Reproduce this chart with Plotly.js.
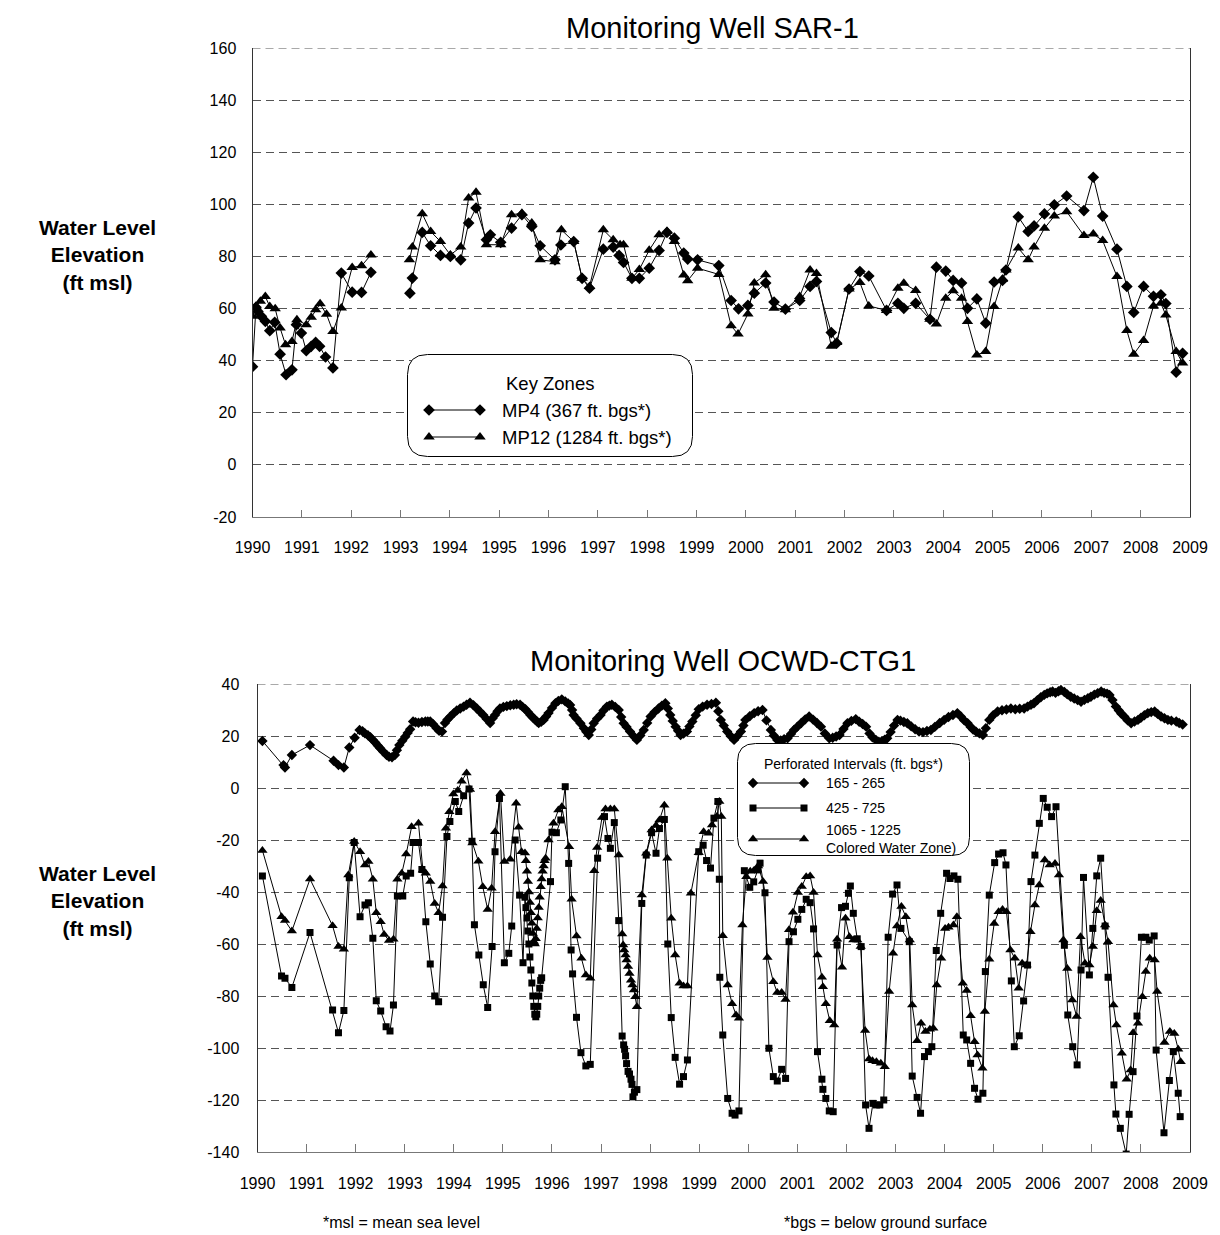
<!DOCTYPE html>
<html><head><meta charset="utf-8">
<script src="https://cdn.plot.ly/plotly-3.0.1.min.js"></script>
<style>html,body{margin:0;padding:0;background:#fff}#chart{width:1220px;height:1235px}</style>
</head><body><div id="chart"></div>
<script>
// ---------------- DATA ----------------
const yearTicks = [1990,1991,1992,1993,1994,1995,1996,1997,1998,1999,2000,2001,2002,2003,2004,2005,2006,2007,2008,2009];
const topYTicks = [-20,0,20,40,60,80,100,120,140,160];
const topYLabels = ["-20","0","20","40","60","80","100","120","140","160"];
const botYTicks = [-140,-120,-100,-80,-60,-40,-20,0,20,40];
const botYLabels = ["-140","-120","-100","-80","-60","-40","-20","0","20","40"];

const topTitle = "Monitoring Well SAR-1";
const bottomTitle = "Monitoring Well OCWD-CTG1";

// SAR-1, MP4 (367 ft. bgs)
const mp4Years = [1990.00,1990.07,1990.11,1990.18,1990.26,1990.35,1990.45,1990.56,1990.68,1990.80,1990.89,1990.99,1991.09,1991.19,1991.28,1991.36,1991.48,1991.63,1991.80,1992.02,1992.21,1992.40,
 1992.80,
 1993.19,1993.24,1993.44,1993.61,1993.81,1994.01,1994.22,1994.38,1994.53,1994.74,1994.82,1995.03,1995.25,1995.46,1995.66,1995.83,1996.13,1996.25,1996.51,1996.68,1996.83,1997.11,1997.31,1997.43,1997.52,1997.69,1997.84,1998.04,1998.24,1998.40,1998.55,1998.74,1998.82,1999.02,1999.45,1999.70,1999.85,2000.04,2000.17,2000.40,2000.57,2000.80,2001.09,2001.30,2001.43,2001.73,2001.84,2002.09,2002.31,2002.49,2002.85,2003.08,2003.20,2003.44,2003.73,2003.86,2004.05,2004.20,2004.37,2004.49,2004.68,2004.86,2005.03,2005.20,2005.27,2005.52,2005.72,2005.84,2006.05,2006.25,2006.50,2006.85,2007.04,2007.23,2007.52,2007.72,2007.86,2008.06,2008.26,2008.41,2008.51,2008.72,2008.85];
const mp4Values = [37.7,60.5,58.9,57.0,55.1,51.5,54.7,42.5,34.6,36.5,53.8,50.6,43.8,45.5,47.0,45.5,41.4,37.2,73.6,66.3,66.2,73.9,
 null,
 65.9,71.7,89.2,84.1,80.4,80.0,78.7,92.8,98.6,86.4,88.3,85.4,90.9,96.0,91.5,84.1,78.7,84.4,85.7,71.6,67.8,82.8,83.6,80.4,77.7,71.6,71.6,75.5,82.3,89.2,87.0,81.3,79.0,78.7,76.5,63.1,59.9,61.2,65.9,69.8,62.5,59.8,63.1,68.5,70.4,50.8,46.7,67.5,74.2,72.5,59.3,62.0,60.1,62.0,55.9,75.9,74.4,70.8,69.8,60.1,63.7,54.4,70.2,70.8,74.8,95.2,89.6,91.7,96.3,99.8,103.2,97.6,110.4,95.5,82.8,68.5,58.5,68.5,64.7,65.3,61.9,35.6,42.8];

// SAR-1, MP12 (1284 ft. bgs)
const mp12Years = [1990.00,1990.07,1990.16,1990.26,1990.35,1990.46,1990.56,1990.67,1990.80,1990.90,1991.09,1991.19,1991.28,1991.37,1991.50,1991.63,1991.80,1992.02,1992.21,1992.40,
 1992.80,
 1993.18,1993.24,1993.44,1993.61,1993.81,1994.01,1994.22,1994.38,1994.53,1994.74,1995.03,1995.25,1995.46,1995.66,1995.83,1996.13,1996.26,1996.51,1996.68,1996.83,1997.11,1997.31,1997.45,1997.52,1997.69,1997.84,1998.04,1998.24,1998.40,1998.55,1998.74,1998.82,1999.02,1999.45,1999.70,1999.84,2000.04,2000.17,2000.40,2000.57,2000.80,2001.09,2001.30,2001.43,2001.73,2001.84,2002.09,2002.31,2002.49,2002.85,2003.08,2003.20,2003.44,2003.73,2003.86,2004.05,2004.20,2004.37,2004.49,2004.68,2004.86,2005.03,2005.20,2005.27,2005.52,2005.72,2005.84,2006.05,2006.25,2006.50,2006.85,2007.04,2007.23,2007.52,2007.72,2007.86,2008.06,2008.26,2008.41,2008.51,2008.72,2008.85];
const mp12Values = [57.0,60.8,62.8,64.6,60.8,59.9,52.5,46.1,47.4,55.7,53.8,56.7,59.5,61.8,57.8,51.2,60.2,75.8,76.4,80.6,
 null,
 78.7,83.6,96.4,89.6,85.7,80.6,83.6,102.4,104.6,84.5,84.5,96.0,96.6,92.8,78.7,78.0,90.2,85.7,71.6,68.5,90.2,86.4,84.5,84.5,71.6,75.0,82.4,88.3,89.6,85.7,72.9,70.7,75.5,73.1,53.4,50.2,57.9,69.8,73.0,60.1,59.5,64.6,74.8,73.5,45.5,47.0,67.5,70.0,61.0,59.3,67.8,69.7,66.9,55.9,54.1,64.0,66.8,64.0,55.0,42.2,43.5,60.8,71.2,74.8,83.2,78.7,83.6,90.8,95.5,97.2,88.0,88.6,86.1,72.3,51.6,42.5,47.7,61.0,62.0,57.5,43.5,39.1];

// OCWD-CTG1, 165 - 265 ft. bgs
const z1Years = [1990.10,1990.53,1990.56,1990.70,1991.07,1991.55,1991.65,1991.76,1991.87,1991.98,1992.08,1992.14,1992.19,1992.25,1992.30,1992.35,1992.40,1992.45,1992.50,1992.56,1992.63,1992.68,1992.74,1992.80,1992.84,1992.89,1992.95,1993.01,1993.06,1993.11,1993.17,1993.22,1993.28,1993.35,1993.42,1993.47,1993.52,1993.58,1993.65,1993.70,1993.76,1993.82,1993.87,1993.93,1994.00,1994.06,1994.13,1994.20,1994.26,1994.33,1994.40,1994.47,1994.53,1994.60,1994.67,1994.74,1994.79,1994.84,1994.89,1994.94,1995.01,1995.08,1995.15,1995.22,1995.28,1995.35,1995.40,1995.46,1995.51,1995.56,1995.61,1995.66,1995.70,1995.73,1995.78,1995.83,1995.88,1995.93,1996.00,1996.07,1996.13,1996.20,1996.27,1996.33,1996.37,1996.41,1996.44,1996.50,1996.58,1996.65,1996.70,1996.75,1996.80,1996.85,1996.92,1996.99,1997.05,1997.12,1997.17,1997.22,1997.29,1997.36,1997.41,1997.46,1997.52,1997.59,1997.66,1997.73,1997.80,1997.87,1997.94,1998.01,1998.09,1998.17,1998.24,1998.31,1998.36,1998.41,1998.46,1998.52,1998.57,1998.62,1998.68,1998.75,1998.80,1998.86,1998.93,1998.99,1999.07,1999.16,1999.25,1999.34,1999.39,1999.44,1999.50,1999.57,1999.64,1999.71,1999.78,1999.85,1999.90,1999.94,2000.03,2000.12,2000.20,2000.29,2000.37,2000.46,2000.52,2000.59,2000.66,2000.73,2000.80,2000.87,2000.93,2001.00,2001.08,2001.16,2001.24,2001.32,2001.40,2001.48,2001.56,2001.65,2001.72,2001.79,2001.86,2001.94,2002.02,2002.10,2002.19,2002.26,2002.33,2002.40,2002.47,2002.53,2002.60,2002.66,2002.72,2002.78,2002.83,2002.90,2002.97,2003.04,2003.10,2003.17,2003.24,2003.32,2003.40,2003.48,2003.56,2003.64,2003.72,2003.80,2003.90,2003.99,2004.08,2004.17,2004.26,2004.33,2004.40,2004.47,2004.53,2004.58,2004.64,2004.71,2004.78,2004.84,2004.91,2004.99,2005.08,2005.17,2005.26,2005.35,2005.44,2005.53,2005.62,2005.69,2005.76,2005.82,2005.89,2005.96,2006.03,2006.09,2006.15,2006.20,2006.26,2006.32,2006.37,2006.44,2006.50,2006.57,2006.64,2006.71,2006.78,2006.85,2006.92,2006.98,2007.05,2007.12,2007.19,2007.25,2007.31,2007.36,2007.42,2007.49,2007.55,2007.60,2007.66,2007.73,2007.80,2007.87,2007.94,2008.00,2008.07,2008.14,2008.21,2008.28,2008.34,2008.41,2008.48,2008.55,2008.62,2008.72,2008.78,2008.85];
const z1Values = [18.1,8.8,7.9,12.7,16.5,10.5,8.8,7.9,15.6,19.3,22.3,21.8,21.0,20.3,19.5,18.5,17.5,16.3,15.3,14.0,12.7,12.0,11.8,12.7,14.5,16.5,18.2,19.7,21.2,22.6,25.6,25.3,25.1,25.4,25.6,25.6,25.6,24.5,23.0,22.0,21.7,25.0,26.3,27.5,28.8,29.8,30.6,31.3,32.0,32.8,31.8,30.6,29.4,28.1,26.5,25.0,26.8,28.1,29.5,30.6,31.2,31.5,31.8,32.0,32.2,32.0,31.2,30.3,29.2,28.1,27.1,26.2,25.5,25.0,25.5,26.2,27.5,28.8,30.8,32.6,33.5,34.1,33.3,32.5,31.9,30.0,28.1,26.7,24.9,23.0,21.6,20.4,22.5,24.9,26.7,28.1,29.8,31.3,31.7,32.0,31.2,30.0,27.3,24.9,23.5,21.7,20.0,18.5,20.2,22.3,25.0,27.5,29.2,30.6,31.7,32.6,30.6,28.1,25.8,23.6,22.0,20.4,20.9,21.7,23.7,25.6,28.0,30.3,31.3,32.0,32.3,32.8,29.5,26.2,24.0,21.7,20.0,18.5,20.0,21.7,24.0,26.2,27.6,28.8,29.5,30.0,26.0,22.3,20.2,18.5,18.3,18.8,19.1,20.8,22.3,23.6,25.0,26.4,27.5,26.3,25.0,23.6,21.0,19.1,19.3,19.8,20.4,22.7,24.9,25.8,26.5,25.5,24.6,23.6,21.0,19.5,18.5,17.8,18.0,18.6,19.1,21.5,24.0,26.2,25.9,25.4,24.9,23.7,22.6,21.7,21.5,21.9,22.3,23.5,25.0,26.2,27.3,28.1,28.8,27.5,26.0,24.9,23.5,22.5,21.7,21.0,20.4,23.0,26.2,28.0,29.4,29.9,30.2,30.6,30.3,30.5,30.6,31.3,32.0,32.6,33.8,34.9,35.8,36.4,36.8,37.1,36.6,37.2,37.7,36.9,36.0,35.1,34.4,33.8,33.2,33.9,34.5,35.1,35.9,36.5,37.1,36.6,36.3,35.8,33.8,31.3,29.8,28.6,27.5,26.0,24.9,25.6,26.2,27.0,28.0,28.8,29.2,29.4,28.5,27.5,26.8,26.2,25.9,25.6,25.0,24.4];

// OCWD-CTG1, 425 - 725 ft. bgs
const z2Years = [1990.10,1990.49,1990.56,1990.70,1991.07,1991.53,1991.65,1991.76,1991.87,1991.97,1992.09,1992.19,1992.26,1992.35,1992.42,1992.51,1992.62,1992.70,1992.77,1992.85,1992.96,1993.03,1993.12,1993.17,1993.28,1993.35,1993.43,1993.52,1993.61,1993.69,1993.77,1993.86,1993.92,1994.03,1994.10,1994.20,1994.31,1994.37,1994.42,1994.51,1994.60,1994.69,1994.78,1994.84,1994.93,1995.03,1995.12,1995.18,1995.25,1995.34,1995.41,
 1995.45,1995.47,1995.49,1995.51,1995.53,1995.55,1995.57,1995.59,1995.61,1995.63,1995.65,1995.67,1995.69,1995.71,1995.73,1995.75,1995.77,1995.79,
 1995.97,1996.00,1996.09,1996.18,1996.27,1996.34,1996.39,1996.42,1996.50,1996.59,1996.69,1996.78,1996.93,1997.07,1997.14,1997.19,1997.27,1997.36,1997.43,1997.46,1997.48,1997.50,1997.52,1997.55,1997.58,1997.61,1997.63,1997.65,1997.68,1997.73,1997.83,1997.92,1998.03,1998.12,1998.19,1998.29,1998.36,1998.43,1998.51,1998.60,1998.68,1998.76,1998.99,1999.08,1999.15,1999.23,1999.30,1999.38,1999.41,1999.42,1999.48,1999.58,1999.67,1999.73,1999.81,1999.92,2000.03,2000.11,2000.19,2000.24,2000.34,2000.42,2000.51,2000.59,2000.68,2000.76,2000.83,2000.92,2001.01,2001.09,2001.18,2001.26,2001.33,2001.41,2001.50,2001.52,2001.58,2001.65,2001.73,2001.81,2001.90,2001.98,2002.04,2002.08,2002.14,2002.22,2002.30,2002.39,2002.46,2002.54,2002.61,2002.68,2002.76,2002.85,2002.94,2003.03,2003.11,2003.28,2003.34,2003.44,2003.51,2003.59,2003.67,2003.74,2003.83,2003.92,2004.04,2004.11,2004.19,2004.27,2004.38,2004.45,2004.53,2004.61,2004.68,2004.78,2004.83,2004.91,2005.02,2005.10,2005.19,2005.25,2005.36,2005.42,2005.52,2005.61,2005.69,2005.76,2005.84,2005.93,2006.01,2006.09,2006.18,2006.27,2006.44,2006.51,2006.61,2006.70,2006.78,2006.83,2006.95,2007.02,2007.10,2007.18,2007.27,2007.33,2007.45,2007.49,2007.58,2007.70,2007.76,2007.84,2007.92,2008.01,2008.10,2008.17,2008.27,2008.31,2008.47,2008.58,2008.66,2008.76,2008.80];
const z2Values = [-33.8,-72.3,-73.2,-76.7,-55.6,-85.4,-94.1,-85.6,-34.5,-21.0,-49.5,-45.0,-44.1,-57.8,-81.8,-85.8,-91.8,-93.5,-83.5,-41.5,-41.5,-33.8,-32.8,-21.0,-21.0,-31.3,-51.4,-67.7,-80.0,-82.2,-49.7,-18.7,-12.9,-5.2,-9.0,-3.0,-0.4,-20.5,-52.6,-64.2,-75.7,-84.4,-61.0,-24.5,-4.0,-67.2,-63.6,-53.1,-20.0,-41.2,-67.2,
 -42,-46,-50,-55,-60,-65,-70,-75,-80,-84,-87,-88,-87,-84,-80,-77,-74,-73,
 -36.0,-17.0,-17.2,-12.3,0.5,-29.0,-62.3,-71.5,-88.2,-101.8,-106.9,-106.3,-27.0,-11.0,-19.4,-23.2,-13.3,-51.0,-95.4,-98.8,-100.5,-103,-106,-109,-110,-112,-114,-118.8,-117,-116,-44.4,-25.8,-17.2,-25.1,-15.6,-12.1,-60.0,-88.3,-103.6,-113.9,-111.0,-104.6,-24.5,-22.0,-27.9,-30.8,-11.6,-5.2,-35.1,-72.8,-95.0,-119.4,-125.1,-125.8,-124.2,-31.8,-38.2,-36.1,-31.5,-28.9,-40.3,-100.1,-111.0,-112.7,-108.2,-111.7,-59.1,-55.3,-50.5,-46.7,-42.8,-44.1,-54.2,-101.4,-112.0,-115.9,-119.4,-124.2,-124.5,-60.4,-46.0,-45.5,-40.5,-37.7,-48.2,-58.0,-61.0,-121.9,-130.9,-121.3,-121.9,-121.9,-120.0,-57.4,-40.8,-37.3,-54.0,-59.1,-110.8,-119.0,-125.1,-103.3,-101.4,-99.5,-62.5,-48.2,-32.8,-34.8,-33.8,-35.1,-95.0,-96.9,-105.9,-115.5,-119.7,-117.4,-70.6,-41.2,-28.7,-25.4,-24.9,-29.6,-74.2,-99.5,-95.3,-81.9,-68.1,-36.0,-25.8,-13.6,-4.0,-7.4,-11.0,-7.2,-60.5,-87.3,-99.5,-106.5,-70.0,-34.4,-71.9,-54.0,-33.8,-27.0,-53.1,-72.8,-114.2,-125.4,-130.9,-140.8,-125.5,-109.1,-87.7,-57.4,-57.4,-58.5,-56.9,-100.8,-132.6,-112.5,-101.4,-117.4,-126.4];

// OCWD-CTG1, 1065 - 1225 ft. bgs (Colored Water Zone)
const z3Years = [1990.10,1990.49,1990.56,1990.70,1991.07,1991.53,1991.65,1991.76,1991.85,1991.97,1992.09,1992.19,1992.26,1992.35,1992.42,1992.51,1992.58,1992.68,1992.77,1992.85,1992.94,1993.03,1993.14,1993.28,1993.37,1993.43,1993.52,1993.61,1993.69,1993.77,1993.84,1993.91,1993.99,1994.08,1994.16,1994.26,1994.33,1994.38,1994.50,1994.59,1994.69,1994.77,1994.84,1994.95,1995.03,1995.15,1995.27,1995.32,1995.38,
 1995.45,1995.47,1995.49,1995.51,1995.53,1995.55,1995.57,1995.59,1995.61,1995.63,1995.65,1995.67,1995.69,1995.71,1995.73,1995.75,1995.77,1995.79,1995.81,1995.83,1995.85,1995.87,
 1995.93,1996.03,1996.13,1996.20,1996.35,1996.40,1996.50,1996.60,1996.69,1996.78,1996.86,1996.92,1997.02,1997.09,1997.19,1997.27,1997.36,1997.43,
 1997.45,1997.47,1997.50,1997.52,1997.55,1997.58,1997.61,1997.64,1997.67,1997.70,1997.73,
 1997.83,1997.92,1998.03,1998.12,1998.19,1998.29,1998.35,1998.43,1998.51,1998.60,1998.68,1998.76,1998.83,1998.99,1999.09,1999.19,1999.26,1999.36,1999.41,1999.45,1999.48,1999.58,1999.67,1999.75,1999.81,1999.88,1999.96,2000.04,2000.11,2000.20,2000.30,2000.39,2000.51,2000.59,2000.68,2000.76,2000.83,2000.91,2001.01,2001.09,2001.18,2001.26,2001.33,2001.41,2001.50,2001.52,2001.58,2001.66,2001.75,2001.81,2001.91,2001.98,2002.06,2002.14,2002.22,2002.29,2002.38,2002.46,2002.53,2002.61,2002.70,2002.78,2002.87,2002.95,2003.03,2003.12,2003.21,2003.29,2003.34,2003.44,2003.52,2003.61,2003.70,2003.77,2003.84,2003.93,2004.01,2004.08,2004.18,2004.25,2004.37,2004.45,2004.53,2004.61,2004.67,2004.77,2004.82,2004.91,2005.01,2005.10,2005.18,2005.26,2005.34,2005.43,2005.51,2005.58,2005.67,2005.75,2005.84,2005.93,2006.04,2006.14,2006.25,2006.33,2006.42,2006.50,2006.60,2006.69,2006.77,2006.86,2006.95,2007.02,2007.10,2007.18,2007.27,2007.33,2007.44,2007.50,2007.61,2007.71,2007.79,2007.84,2007.94,2008.03,2008.10,2008.18,2008.28,2008.33,2008.48,2008.59,2008.68,2008.76,2008.81];
const z3Values = [-24,-49.5,-51,-55,-35,-53,-61,-62,-33.5,-20.6,-24.5,-29.6,-28.3,-35.1,-48.0,-51.4,-56.3,-58.7,-58.2,-35.1,-32.8,-25.4,-14.9,-13.6,-31.5,-32.8,-36.0,-44.4,-48.0,-37.7,-15.5,-9.1,-2.3,-1.0,2.6,5.8,-0.6,-21.2,-28.2,-38.0,-46.7,-38.6,-16.8,-2.1,-28.3,-27.4,-5.9,-15.1,-24.5,
 -25,-28,-32,-36,-40,-44,-48,-52,-56,-59,-60,-58,-54,-50,-46,-42,-38,-35,-32,-30,-28,-27,
 -20,-13.6,-8.5,-7.2,-22.6,-42.8,-56.9,-65.5,-71.9,-73.2,-31.8,-22.9,-11.3,-8.1,-8.1,-8.1,-25.8,-56.2,
 -60.4,-62.3,-64.2,-66.2,-68.7,-71.3,-73.9,-75.8,-77.7,-80.3,-84.1,
 -41.2,-25.1,-16.2,-14.4,-12.3,-6.6,-27.0,-50.1,-64.2,-75.1,-76.2,-76.2,-40.5,-24.9,-16.8,-17.4,-14.2,-11.0,-5.2,-11.0,-56.8,-75.8,-83.0,-87.3,-88.6,-52.7,-34.1,-32.0,-31.8,-30.0,-36.0,-65.2,-74.5,-78.7,-78.7,-81.3,-54.5,-47.8,-40.2,-37.9,-34.1,-33.8,-40.2,-64.2,-72.8,-76.4,-83.0,-89.5,-91.2,-58.2,-68.9,-50.1,-57.2,-58.5,-58.5,-61.0,-93.3,-104.2,-104.9,-105.3,-105.9,-107.2,-78.3,-63.6,-53.1,-45.6,-49.5,-58.5,-83.5,-97.2,-90.5,-93.7,-92.8,-92.4,-75.8,-65.5,-54.0,-53.6,-52.7,-49.5,-75.1,-77.9,-87.6,-97.6,-102.7,-107.8,-86.0,-65.9,-52.1,-47.6,-46.7,-47.6,-62.3,-65.5,-77.0,-67.4,-68.1,-55.3,-45.0,-37.3,-27.7,-29.6,-29.0,-33.5,-58.5,-69.4,-81.5,-87.9,-57.2,-67.4,-68.1,-61.0,-47.2,-43.3,-52.7,-59.1,-83.5,-91.2,-102.0,-112.0,-108.5,-94.1,-90.5,-80.3,-70.6,-65.5,-66.2,-78.3,-97.9,-93.7,-94.4,-100.5,-105.3];

const topLegendTitle = "Key Zones";
const topSeriesNames = ["MP4 (367 ft. bgs*)", "MP12 (1284 ft. bgs*)"];
const bottomLegendTitle = "Perforated Intervals (ft. bgs*)";
const bottomSeriesNames = ["165 - 265", "425 - 725", "1065 - 1225<br>Colored Water Zone)"];
const yAxisLabel = "<b>Water Level<br>Elevation<br>(ft msl)</b>";
const footnotes = ["*msl = mean sea level", "*bgs = below ground surface"];

// ---------------- LAYOUT (pixel geometry) ----------------
const W = 1220, H = 1235;
const FONT = "Liberation Sans, Arial, sans-serif";
const px = v => v / W;
const py = v => 1 - v / H;

const topBox = {x0: 252.5, x1: 1190, y0: 48, y1: 517};
const botBox = {x0: 257.5, x1: 1190, y0: 684, y1: 1152};

function roundRect(x0, y0, x1, y1, r) {
  return `M${x0+r},${y0} H${x1-r} Q${x1},${y0} ${x1},${y0+r} V${y1-r} Q${x1},${y1} ${x1-r},${y1} H${x0+r} Q${x0},${y1} ${x0},${y1-r} V${y0+r} Q${x0},${y0} ${x0+r},${y0} Z`;
}

const lineStyle = {color: '#000', width: 1};
const traces = [
  {x: mp4Years, y: mp4Values, xaxis: 'x', yaxis: 'y', mode: 'lines+markers', connectgaps: false,
   line: lineStyle, marker: {symbol: 'diamond', size: 9, color: '#000'}, name: topSeriesNames[0]},
  {x: mp12Years, y: mp12Values, xaxis: 'x', yaxis: 'y', mode: 'lines+markers', connectgaps: false,
   line: lineStyle, marker: {symbol: 'triangle-up', size: 10, color: '#000'}, name: topSeriesNames[1]},
  {x: z1Years, y: z1Values, xaxis: 'x2', yaxis: 'y2', mode: 'lines+markers',
   line: lineStyle, marker: {symbol: 'diamond', size: 8, color: '#000'}, name: bottomSeriesNames[0]},
  {x: z2Years, y: z2Values, xaxis: 'x2', yaxis: 'y2', mode: 'lines+markers',
   line: lineStyle, marker: {symbol: 'square', size: 7, color: '#000'}, name: bottomSeriesNames[1]},
  {x: z3Years, y: z3Values, xaxis: 'x2', yaxis: 'y2', mode: 'lines+markers',
   line: lineStyle, marker: {symbol: 'triangle-up', size: 9, color: '#000'}, name: bottomSeriesNames[2]}
];

// legend key samples (drawn on a pixel-space overlay axis)
const keySamples = [
  {y: 410, symbol: 'diamond', size: 9, x0: 429, x1: 480},
  {y: 437, symbol: 'triangle-up', size: 10, x0: 429, x1: 480},
  {y: 783, symbol: 'diamond', size: 8, x0: 753, x1: 804},
  {y: 808, symbol: 'square', size: 7, x0: 753, x1: 804},
  {y: 839, symbol: 'triangle-up', size: 9, x0: 753, x1: 804}
];
keySamples.forEach(k => traces.push({
  x: [k.x0, k.x1], y: [k.y, k.y], xaxis: 'x3', yaxis: 'y3', mode: 'lines+markers',
  line: lineStyle, marker: {symbol: k.symbol, size: k.size, color: '#000'}, hoverinfo: 'skip'
}));

const tickFont = {family: FONT, size: 16, color: '#000'};
const gridStyle = {showgrid: true, gridcolor: '#555', gridwidth: 1, griddash: '8px,5px', zeroline: false};

const layout = {
  width: W, height: H, margin: {l: 0, r: 0, t: 0, b: 0},
  paper_bgcolor: '#fff', plot_bgcolor: 'rgba(0,0,0,0)', showlegend: false,
  font: {family: FONT, color: '#000'},
  xaxis: {domain: [px(topBox.x0), px(topBox.x1)], anchor: 'y', range: [1990, 2009], tickvals: yearTicks,
    ticks: 'inside', ticklen: 7, tickcolor: '#777', showgrid: false, zeroline: false,
    showline: true, linecolor: '#777', linewidth: 1, tickfont: tickFont, ticklabelstandoff: 16},
  yaxis: Object.assign({domain: [py(topBox.y1), py(topBox.y0)], anchor: 'x', range: [-20, 160],
    tickmode: 'array', tickvals: topYTicks, ticktext: topYLabels,
    showline: true, mirror: true, linecolor: '#333', linewidth: 1, ticks: '', tickfont: tickFont, ticklabelstandoff: 12}, gridStyle),
  xaxis2: {domain: [px(botBox.x0), px(botBox.x1)], anchor: 'y2', range: [1990, 2009], tickvals: yearTicks,
    ticks: 'inside', ticklen: 8, tickcolor: '#777', showgrid: false, zeroline: false,
    showline: true, linecolor: '#777', linewidth: 1, tickfont: tickFont, ticklabelstandoff: 17},
  yaxis2: Object.assign({domain: [py(botBox.y1), py(botBox.y0)], anchor: 'x2', range: [-140, 40],
    tickmode: 'array', tickvals: botYTicks, ticktext: botYLabels,
    showline: true, mirror: true, linecolor: '#333', linewidth: 1, ticks: '', tickfont: tickFont, ticklabelstandoff: 14}, gridStyle),
  xaxis3: {domain: [0, 1], anchor: 'y3', range: [0, W], visible: false, fixedrange: true},
  yaxis3: {domain: [0, 1], anchor: 'x3', range: [H, 0], visible: false, fixedrange: true},
  shapes: [
    // dashed top edges of the two plot frames (gridline at the top tick value)
    {type: 'line', xref: 'x domain', yref: 'y', x0: 0, x1: 1, y0: 160, y1: 160,
     line: {color: '#555', width: 1, dash: '8px,5px'}, layer: 'below'},
    {type: 'line', xref: 'x2 domain', yref: 'y2', x0: 0, x1: 1, y0: 40, y1: 40,
     line: {color: '#555', width: 1, dash: '8px,5px'}, layer: 'below'},
    {type: 'path', xref: 'x3', yref: 'y3', path: roundRect(407.5, 354.5, 692.5, 456.5, 20),
     line: {color: '#000', width: 1}, fillcolor: '#fff', layer: 'between'},
    {type: 'path', xref: 'x3', yref: 'y3', path: roundRect(737.5, 743.5, 969.5, 855.5, 18),
     line: {color: '#000', width: 1}, fillcolor: '#fff', layer: 'between'}
  ],
  annotations: [
    {text: topTitle, xref: 'paper', yref: 'paper', x: px(713), y: py(28), showarrow: false, font: {size: 29}, xanchor: 'center', yanchor: 'middle'},
    {text: bottomTitle, xref: 'paper', yref: 'paper', x: px(723), y: py(661), showarrow: false, font: {size: 29}, xanchor: 'center', yanchor: 'middle'},
    {text: yAxisLabel, xref: 'paper', yref: 'paper', x: px(97), y: py(255), showarrow: false, font: {size: 21}, xanchor: 'center', yanchor: 'middle'},
    {text: yAxisLabel, xref: 'paper', yref: 'paper', x: px(97), y: py(901), showarrow: false, font: {size: 21}, xanchor: 'center', yanchor: 'middle'},
    {text: footnotes[0], xref: 'paper', yref: 'paper', x: px(401), y: py(1222), showarrow: false, font: {size: 16}, xanchor: 'center', yanchor: 'middle'},
    {text: footnotes[1], xref: 'paper', yref: 'paper', x: px(885), y: py(1222), showarrow: false, font: {size: 16}, xanchor: 'center', yanchor: 'middle'},
    {text: topLegendTitle, xref: 'x3', yref: 'y3', x: 550, y: 383, showarrow: false, font: {size: 18.5}, xanchor: 'center', yanchor: 'middle'},
    {text: topSeriesNames[0], xref: 'x3', yref: 'y3', x: 500, y: 410, showarrow: false, font: {size: 18.5}, xanchor: 'left', yanchor: 'middle'},
    {text: topSeriesNames[1], xref: 'x3', yref: 'y3', x: 500, y: 437, showarrow: false, font: {size: 18.5}, xanchor: 'left', yanchor: 'middle'},
    {text: bottomLegendTitle, xref: 'x3', yref: 'y3', x: 853, y: 764, showarrow: false, font: {size: 14}, xanchor: 'center', yanchor: 'middle'},
    {text: bottomSeriesNames[0], xref: 'x3', yref: 'y3', x: 824, y: 783, showarrow: false, font: {size: 14}, xanchor: 'left', yanchor: 'middle'},
    {text: bottomSeriesNames[1], xref: 'x3', yref: 'y3', x: 824, y: 808, showarrow: false, font: {size: 14}, xanchor: 'left', yanchor: 'middle'},
    {text: bottomSeriesNames[2], xref: 'x3', yref: 'y3', x: 824, y: 839, showarrow: false, font: {size: 14}, xanchor: 'left', yanchor: 'middle', align: 'left'}
  ]
};

Plotly.newPlot('chart', traces, layout, {staticPlot: true, displayModeBar: false});
</script>
</body></html>
